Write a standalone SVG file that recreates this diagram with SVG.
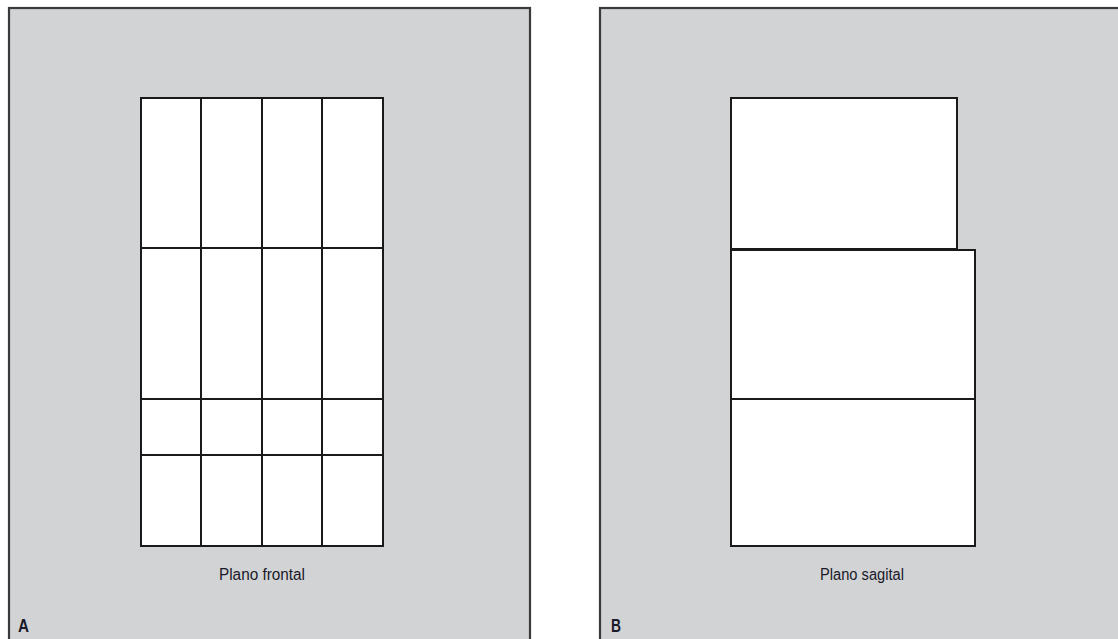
<svg xmlns="http://www.w3.org/2000/svg" width="1118" height="639" viewBox="0 0 1118 639">
<style>
.panel{fill:#d2d3d5;stroke:#3a3a3a;stroke-width:2.2}
.box{fill:#ffffff;stroke:#1a1a1a;stroke-width:2}
.ln{stroke:#1a1a1a;stroke-width:2;fill:none}
.lbl{font-family:"Liberation Sans",Arial,sans-serif;font-size:16px;fill:#1a1a2a}
.tag{font-family:"Liberation Sans",Arial,sans-serif;font-size:18px;font-weight:bold;fill:#1a1a2a}
</style>
<rect width="1118" height="639" fill="#ffffff"/>
<g id="panelA">
<rect class="panel" x="9" y="8" width="521" height="640"/>
<rect class="box" x="141" y="98" width="242" height="448"/>
<path class="ln" d="M201 98V546M262 98V546M322 98V546M141 248H383M141 399H383M141 455H383"/>
<text class="lbl" x="262" y="580" text-anchor="middle" textLength="86" lengthAdjust="spacingAndGlyphs">Plano frontal</text>
<text class="tag" x="18" y="632" textLength="11" lengthAdjust="spacingAndGlyphs">A</text>
</g>
<g id="panelB">
<rect class="panel" x="600" y="8" width="530" height="640"/>
<rect class="box" x="731" y="98" width="226" height="151"/>
<rect class="box" x="731" y="250" width="244" height="149"/>
<rect class="box" x="731" y="399" width="244" height="147"/>
<text class="lbl" x="862" y="580" text-anchor="middle" textLength="84" lengthAdjust="spacingAndGlyphs">Plano sagital</text>
<text class="tag" x="611" y="632" textLength="10" lengthAdjust="spacingAndGlyphs">B</text>
</g>
</svg>
